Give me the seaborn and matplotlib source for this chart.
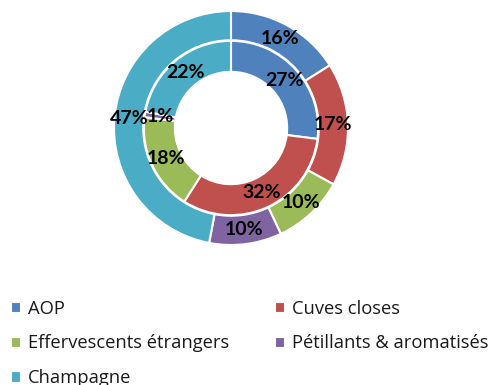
import matplotlib
matplotlib.use("Agg")
import matplotlib.pyplot as plt
from matplotlib.patches import Patch
import seaborn as sns

# Sparkling wine market shares: outer ring and inner ring (percent)
categories = ["AOP", "Cuves closes", "Effervescents étrangers",
              "Pétillants & aromatisés", "Champagne"]
outer_values = [16, 17, 10, 10, 47]
inner_values = [27, 32, 18, 1, 22]
colors = ["#4F81BD", "#C0504D", "#9BBB59", "#8064A2", "#4BACC6"]

sns.set_theme(style="white")
plt.rcParams["font.family"] = ["Lato", "DejaVu Sans"]
palette = sns.color_palette(colors)

fig = plt.figure(figsize=(4.94, 3.85), dpi=100)
ax = fig.add_axes([114 / 494, 140 / 385, 234 / 494, 234 / 385])

fmt = lambda p: f"{p:.0f}%"
wedge_kw = dict(edgecolor="white", linewidth=1.5)
text_kw = dict(fontsize=14, fontweight="bold", color="black")

ax.pie(outer_values, radius=1.0, colors=palette, startangle=90,
       counterclock=False, autopct=fmt, pctdistance=0.875,
       wedgeprops=dict(width=0.25, **wedge_kw), textprops=text_kw)
ax.pie(inner_values, radius=0.745, colors=palette, startangle=90,
       counterclock=False, autopct=fmt, pctdistance=0.82,
       wedgeprops=dict(width=0.265, **wedge_kw), textprops=text_kw)
ax.set_xlim(-1.0, 1.0)
ax.set_ylim(-1.0, 1.0)
ax.set_aspect("equal")
ax.axis("off")

# Legend laid out row by row: AOP / Cuves closes, Effervescents / Pétillants, Champagne
order = [0, 2, 4, 1, 3]
handles = [Patch(facecolor=palette[i], edgecolor="white", linewidth=0.8) for i in order]
labels = [categories[i] for i in order]
fig.legend(handles, labels, loc="upper left", bbox_to_anchor=(0.022, 0.222),
           ncol=2, frameon=False, handlelength=0.52,
           handleheight=0.52, handletextpad=0.4, columnspacing=2.5,
           labelspacing=0.92, borderpad=0, borderaxespad=0,
           labelcolor="#1a1a1a",
           prop=dict(family=["Open Sans", "DejaVu Sans"], size=13.2))

fig.savefig("out.png", dpi=100)
